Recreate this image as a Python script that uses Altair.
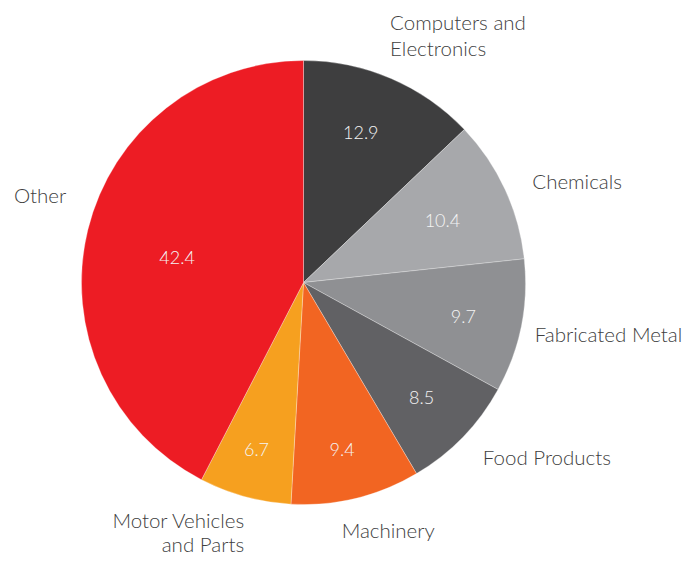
import altair as alt
import pandas as pd

categories = ["Computers and Electronics", "Chemicals", "Fabricated Metal",
              "Food Products", "Machinery", "Motor Vehicles and Parts", "Other"]
shares = [12.9, 10.4, 9.7, 8.5, 9.4, 6.7, 42.4]
label_texts = ["Computers and\nElectronics", "Chemicals", "Fabricated Metal",
               "Food Products", "Machinery", "Motor Vehicles\nand Parts", "Other"]
value_texts = ["12.9", "10.4", "9.7", "8.5", "9.4", "6.7", "42.4"]
colors = ["#3e3e3f", "#a7a8ab", "#8f9093", "#616164", "#f26522", "#f6a01f", "#ed1c24"]

df = pd.DataFrame({
    "category": categories,
    "share": shares,
    "order": list(range(len(categories))),
    "label": label_texts,
    "vtext": value_texts,
})

# styling (centre of pie in view coords, radii, per-label nudges)
CX, CY, R = 295.5, 274.5, 222
FONT = "Lato"
name_style = {
    "Computers and Electronics": ("left", -8, -32, 26),
    "Chemicals": ("left", 11, 7, 26),
    "Fabricated Metal": ("left", -4, 12, 26),
    "Food Products": ("left", 7, 15, 26),
    "Machinery": ("center", 28, 22, 26),
    "Motor Vehicles and Parts": ("right", 4, 14, 24),
    "Other": ("right", -4, -23, 26),
}
value_style = {
    "Computers and Electronics": (-7, 1),
    "Chemicals": (-9, 8),
    "Fabricated Metal": (0, 3),
    "Food Products": (1, 3),
    "Machinery": (0, 10),
    "Motor Vehicles and Parts": (-4, 11),
    "Other": (32, 15),
}

theta_scale = alt.Scale(domain=[0, 100])

pie = alt.Chart(df).mark_arc(outerRadius=R, stroke="#ffffff", strokeWidth=0.3).encode(
    theta=alt.Theta("share:Q", stack=True, scale=theta_scale),
    order=alt.Order("order:Q"),
    color=alt.Color("category:N", scale=alt.Scale(domain=categories, range=colors), legend=None),
    x=alt.value(CX),
    y=alt.value(CY),
)

base = alt.Chart(df).transform_window(
    cum="sum(share)", sort=[alt.SortField("order")], frame=[None, 0]
).transform_calculate(mid="datum.cum - datum.share / 2")

layers = [pie]
for cat in categories:
    align, dx, dy, lh = name_style[cat]
    layers.append(
        base.transform_filter(alt.datum.category == cat).mark_text(
            align=align, baseline="alphabetic", dx=dx, dy=dy, radius=240,
            font=FONT, fontSize=20.5, fontWeight=300, color="#404040",
            lineBreak="\n", lineHeight=lh,
        ).encode(
            theta=alt.Theta("mid:Q", scale=theta_scale),
            text=alt.Text("label:N"),
            x=alt.value(CX),
            y=alt.value(CY),
        )
    )
    vdx, vdy = value_style[cat]
    layers.append(
        base.transform_filter(alt.datum.category == cat).mark_text(
            align="center", baseline="middle", dx=vdx, dy=vdy, radius=163,
            font=FONT, fontSize=18, fontWeight=300, color="#f4f4f4",
        ).encode(
            theta=alt.Theta("mid:Q", scale=theta_scale),
            text=alt.Text("vtext:N"),
            x=alt.value(CX),
            y=alt.value(CY),
        )
    )

chart = alt.layer(*layers).properties(
    width=674, height=547, padding=0, background="#ffffff",
    autosize=alt.AutoSizeParams(type="none"),
).configure_view(stroke=None)

chart.save("out.html", embed_options={"renderer": "svg", "actions": False})
